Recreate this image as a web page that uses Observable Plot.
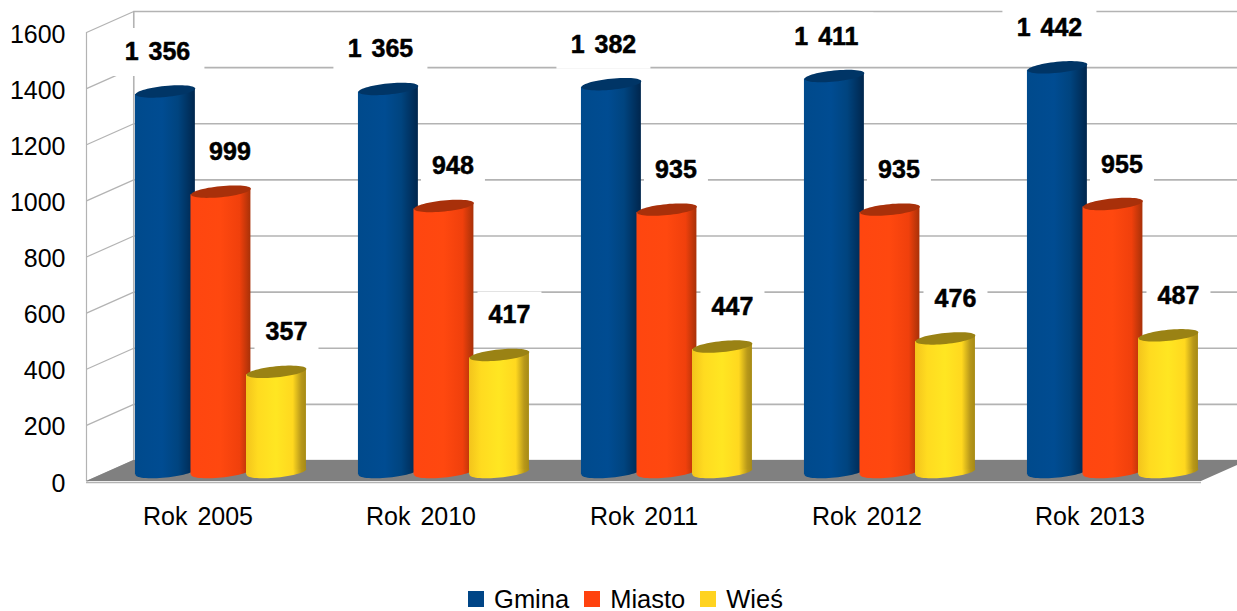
<!DOCTYPE html>
<html><head><meta charset="utf-8">
<style>
html,body{margin:0;padding:0;background:#fff;overflow:hidden;width:1237px;height:611px}
#legend{display:flex;justify-content:center;align-items:center;padding-left:14px;padding-top:12px;height:24px;line-height:24px;font-family:"Liberation Sans",sans-serif;font-size:25.5px;color:#000;white-space:nowrap}
#legend .sw{display:inline-block;width:16px;height:16px;margin-right:10px}
#legend .it{display:flex;align-items:center;margin-right:15px}
#legend .it:last-child{margin-right:0}
svg{display:block}
</style>
<script src="https://cdn.jsdelivr.net/npm/d3@7"></script>
<script src="https://cdn.jsdelivr.net/npm/@observablehq/plot@0.6"></script>
</head><body><div id="chart"></div><div id="legend"></div>
<script>
const years = ["Rok 2005","Rok 2010","Rok 2011","Rok 2012","Rok 2013"];
const seriesNames = ["Gmina","Miasto","Wieś"];
const gmina = [1356,1365,1382,1411,1442];
const miasto = [999,948,935,935,955];
const wies = [357,417,447,476,487];
const yTicks = [0,200,400,600,800,1000,1200,1400,1600];
const seriesValues = [gmina,miasto,wies];

// 3D look, in data units
const depthX = 0.212, depthY = 75, slotStart = 0.2195, slotStep = 0.249, barW = 0.2688;
const styles = [
  {key:"b",swatch:"#004586",top:"#003566",stops:[[0,"#004a8c"],[.45,"#004c92"],[.72,"#00447f"],[1,"#00264d"]],dx:-8},
  {key:"r",swatch:"#ff420e",top:"#a8300a",stops:[[0,"#ff4610"],[.5,"#ff480f"],[.82,"#f0400c"],[1,"#a83108"]],dx:9},
  {key:"y",swatch:"#ffd320",top:"#9a8214",stops:[[0,"#f3c41c"],[.2,"#ffdb20"],[.5,"#ffe622"],[.78,"#ffd81f"],[.92,"#b8981a"],[1,"#a68a14"]],dx:10}
];
const rows = seriesNames.map((name,s)=>years.map((year,i)=>({
  year,name,value:seriesValues[s][i],
  x1:i+slotStart+s*slotStep,
  x2:i+slotStart+s*slotStep+barW,
  xc:i+slotStart+s*slotStep+barW/2,
  wide:s===0
})));
const label = v => v>=1000 ? d3.format(",")(v).replace(",", " ") : String(v);

const tilt = -0.1, rx = 30, ry = 5.5;
const ellipse = {draw(ctx){
  for(let k=0;k<=60;k++){
    const a=k/60*2*Math.PI, ex=rx*Math.cos(a), ey=ry*Math.sin(a);
    const px=ex*Math.cos(tilt)-ey*Math.sin(tilt), py=ex*Math.sin(tilt)+ey*Math.cos(tilt);
    k? ctx.lineTo(px,py):ctx.moveTo(px,py);
  }
  ctx.closePath();
}};
const box = (w,h)=>({draw(ctx){ctx.rect(-w/2,-h/2,w,h);}});
const slant = (index,scales,values,dim,ctx,next)=>{
  const g = next(index,scales,values,dim,ctx);
  g.querySelectorAll("rect").forEach(r=>{
    const x=+r.getAttribute("x"),y=+r.getAttribute("y"),w=+r.getAttribute("width"),h=+r.getAttribute("height");
    const s=Math.tan(-tilt)*w/2;
    const p=document.createElementNS("http://www.w3.org/2000/svg","path");
    p.setAttribute("d",`M${x},${y+s}L${x+w},${y-s}L${x+w},${y+h-s}L${x},${y+h+s}Z`);
    r.replaceWith(p);
  });
  return g;
};

const gridStroke = "#b3b3b3";
const floorX=[0,depthX,5,5+depthX], floorLo=[0,0,0,depthY], floorHi=[0,depthY,depthY,depthY];
const marks = [
  Plot.ruleY(yTicks,{x1:()=>depthX,x2:()=>5.3,y:d=>d+depthY,stroke:gridStroke,strokeWidth:1.6}),
  Plot.link(yTicks,{x1:()=>0,x2:()=>depthX,y1:d=>d,y2:d=>d+depthY,stroke:gridStroke,strokeWidth:1.2}),
  Plot.ruleX([0],{y1:0,y2:1600,stroke:gridStroke,strokeWidth:1.2}),
  Plot.ruleX([depthX],{y1:depthY,y2:1600+depthY,stroke:gridStroke,strokeWidth:1.6}),
  Plot.ruleY([0],{x1:0,x2:5,stroke:gridStroke,strokeWidth:1.6,dy:1}),
  Plot.areaY(floorX.map((x,i)=>({x,lo:floorLo[i],hi:floorHi[i]})),{x:"x",y1:"lo",y2:"hi",fill:"#808080"}),
];
// white label backgrounds sit behind the bars
rows.forEach((d,s)=>marks.push(Plot.dot(d,{x:"xc",y:"value",dx:styles[s].dx,dy:-49,symbol:box(s===0?94:64,48),fill:"white",stroke:"none"})));
rows.forEach((d,s)=>{
  const st=styles[s], grad=`url(#cyl-${st.key})`;
  marks.push(Plot.dot(d,{x:"xc",y:()=>0,dy:-9.5,symbol:ellipse,fill:grad,stroke:"none"}));
  marks.push(Plot.rect(d,{x1:"x1",x2:"x2",y1:()=>0,y2:"value",dy:-9.5,fill:grad,render:slant}));
  marks.push(Plot.dot(d,{x:"xc",y:"value",dy:-9.5,symbol:ellipse,fill:st.top,stroke:"none"}));
});
rows.forEach((d,s)=>marks.push(Plot.text(d,{x:"xc",y:"value",text:d=>label(d.value),dx:styles[s].dx,dy:-49,fontSize:25,fontWeight:"bold",fill:"#000",stroke:"#000",strokeWidth:0.5})));
marks.push(Plot.axisY(yTicks,{tickSize:0,tickPadding:21,label:null,fontSize:25,dy:2,tickFormat:d=>String(d)}));
marks.push(Plot.axisX(years.map((_,i)=>i+0.5),{tickSize:0,tickPadding:26,label:null,fontSize:25,tickFormat:(_,i)=>years[i]}));

const svg = Plot.plot({
  width:1237,height:575,
  marginLeft:86,marginRight:36,marginTop:32,marginBottom:94,
  x:{domain:[0,5],type:"linear"},
  y:{domain:[0,1600]},
  style:{fontFamily:"'Liberation Sans',Arial,sans-serif",background:"#fff",color:"#000",wordSpacing:"3px"},
  marks
});
const defs=d3.select(svg).insert("defs",":first-child");
styles.forEach(st=>{
  const g=defs.append("linearGradient").attr("id",`cyl-${st.key}`).attr("x1",0).attr("x2",1).attr("y1",0).attr("y2",0);
  st.stops.forEach(([o,c])=>g.append("stop").attr("offset",o).attr("stop-color",c));
});
document.getElementById("chart").append(svg);
const leg=d3.select("#legend");
seriesNames.forEach((n,s)=>{
  const it=leg.append("div").attr("class","it");
  it.append("span").attr("class","sw").style("background",styles[s].swatch);
  it.append("span").text(n);
});
</script></body></html>
